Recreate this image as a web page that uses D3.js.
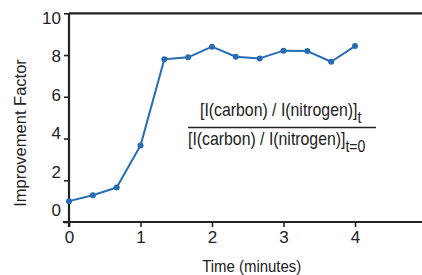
<!DOCTYPE html>
<html>
<head>
<meta charset="utf-8">
<script src="https://cdn.jsdelivr.net/npm/d3@7"></script>
<style>
  body { margin: 0; background: #fff; }
  svg { display: block; font-family: "Liberation Sans", Arial, sans-serif; }
  .axis path, .axis line { stroke: #222; }
  .axis text { fill: #222; }
</style>
</head>
<body>
<svg id="chart" width="422" height="275"></svg>
<script>
// time in minutes, sampled every 20 s
const times = [0, 1/3, 2/3, 1, 4/3, 5/3, 2, 7/3, 8/3, 3, 10/3, 11/3, 4];
const factor = [1.0, 1.28, 1.65, 3.66, 7.80, 7.89, 8.40, 7.92, 7.84, 8.21, 8.19, 7.68, 8.43];
const xTicks = [0, 1, 2, 3, 4];
const yTicks = [0, 2, 4, 6, 8, 10];

const svg = d3.select('#chart');
const lineColor = '#286cb4';
const narrow = 0.88;   // the figure's lettering is a bit condensed

const x = d3.scaleLinear().domain([0, 5]).range([69, 426.5]);
const y = d3.scaleLinear().domain([0, 10]).range([222, 13.3]);
// the tick labels in the figure sit on a slightly tighter spacing than the ticks
const yLab = d3.scaleLinear().domain([0, 10]).range([210, 17.5]);

// top frame line
svg.append('line')
  .attr('x1', x(0)).attr('x2', 422)
  .attr('y1', y(10)).attr('y2', y(10))
  .attr('stroke', '#222').attr('stroke-width', 2.2);

// y axis
const gy = svg.append('g')
  .attr('class', 'axis')
  .attr('transform', `translate(${x(0)},0)`)
  .call(d3.axisLeft(y).tickValues(yTicks).tickFormat(d3.format('d'))
    .tickSize(5).tickSizeOuter(0).tickPadding(3));
gy.select('.domain').attr('stroke-width', 2.2).attr('d', `M0,${y(10)}V${y(0) + 5}`);
gy.selectAll('.tick line').attr('stroke-width', 1.6);
gy.selectAll('.tick text')
  .attr('font-size', 17)
  .attr('dy', null)
  .attr('dominant-baseline', 'central')
  .attr('y', d => yLab(d) - y(d));

// x axis
const gx = svg.append('g')
  .attr('class', 'axis')
  .attr('transform', `translate(0,${y(0)})`)
  .call(d3.axisBottom(x).tickValues(xTicks).tickFormat(d3.format('d'))
    .tickSize(5).tickSizeOuter(0).tickPadding(4));
gx.select('.domain').attr('stroke-width', 2.2).attr('d', `M${x(0) - 6},0H422`);
gx.selectAll('.tick line').attr('stroke-width', 1.6);
gx.selectAll('.tick text').attr('font-size', 17);

// series
const pts = times.map((t, i) => [t, factor[i]]);

svg.append('path')
  .datum(pts)
  .attr('fill', 'none')
  .attr('stroke', lineColor)
  .attr('stroke-width', 2)
  .attr('stroke-linejoin', 'round')
  .attr('d', d3.line().x(d => x(d[0])).y(d => y(d[1])));

svg.append('g').selectAll('circle')
  .data(pts)
  .join('circle')
  .attr('cx', d => x(d[0]))
  .attr('cy', d => y(d[1]))
  .attr('r', 3)
  .attr('fill', lineColor);

// axis titles
svg.append('text')
  .attr('transform', `translate(251.7,272) scale(${narrow},1)`)
  .attr('text-anchor', 'middle')
  .attr('font-size', 17)
  .attr('fill', '#222')
  .text('Time (minutes)');

svg.append('text')
  .attr('transform', 'translate(26,133) rotate(-90)')
  .attr('text-anchor', 'middle')
  .attr('font-size', 16.5)
  .attr('fill', '#222')
  .text('Improvement Factor');

// ratio formula
const num = svg.append('text')
  .attr('transform', `translate(200,116) scale(${narrow},1)`)
  .attr('font-size', 18)
  .attr('fill', '#222');
num.append('tspan').text('[I(carbon) / I(nitrogen)]');
num.append('tspan').attr('dy', 7).attr('font-size', 16).text('t');

svg.append('line')
  .attr('x1', 188).attr('x2', 376)
  .attr('y1', 127.5).attr('y2', 127.5)
  .attr('stroke', '#222').attr('stroke-width', 1.3);

const den = svg.append('text')
  .attr('transform', `translate(188,145) scale(${narrow},1)`)
  .attr('font-size', 18)
  .attr('fill', '#222');
den.append('tspan').text('[I(carbon) / I(nitrogen)]');
den.append('tspan').attr('dy', 7).attr('font-size', 16).text('t=0');
</script>
</body>
</html>
